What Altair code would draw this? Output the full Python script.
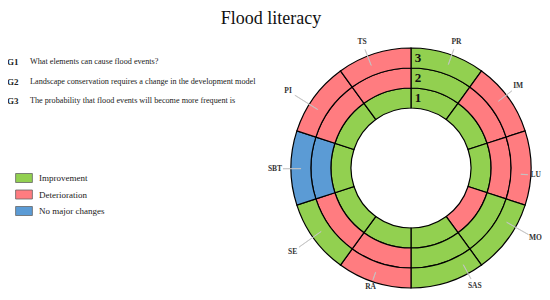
import altair as alt
import pandas as pd

sectors = ["PR", "IM", "LU", "MO", "SAS", "RA", "SE", "SBT", "PI", "TS"]
ring1 = ["Improvement", "Improvement", "Improvement", "Deterioration", "Improvement",
         "Improvement", "Improvement", "Improvement", "Improvement", "Improvement"]
ring2 = ["Improvement", "Deterioration", "Deterioration", "Improvement", "Improvement",
         "Deterioration", "Deterioration", "No major changes", "Deterioration", "Deterioration"]
ring3 = ["Improvement", "Deterioration", "Deterioration", "Improvement", "Improvement",
         "Deterioration", "Improvement", "No major changes", "Deterioration", "Deterioration"]
ring_names = ["1", "2", "3"]
categories = ["Improvement", "Deterioration", "No major changes"]
colors = ["#92D050", "#FF7C80", "#5B9BD5"]
codes = ["G1", "G2", "G3"]
questions = [
    "What elements can cause flood events?",
    "Landscape conservation requires a change in the development model",
    "The probability that flood events will become more frequent is",
]
title_text = "Flood literacy"

# label placement around the ring (angle in sector units, distance in ring units)
label_angle = [0.55, 1.46, 2.59, 3.32, 4.21, 5.52, 6.52, 7.49, 8.39, 9.41]
label_dist = [6.7, 6.75, 6.25, 7.15, 6.7, 6.3, 7.25, 6.8, 7.25, 6.75]

rows = []
for k, ring in enumerate([ring1, ring2, ring3]):
    for i, (s, v) in enumerate(zip(sectors, ring)):
        rows.append({"sector": s, "ring": ring_names[k], "status": v,
                     "start": i, "end": i + 1, "r0": k + 3, "r1": k + 4})
cells = pd.DataFrame(rows)

labels = pd.DataFrame({"sector": sectors, "a": label_angle,
                       "a2": [a + 0.002 for a in label_angle],
                       "lr": label_dist,
                       "l0": 5.5, "l1": [d - 0.4 for d in label_dist]})
nums = pd.DataFrame({"num": ring_names, "pos": 0, "rad": [3.5, 4.5, 5.5]})
qs = pd.DataFrame({"code": codes, "q": questions, "row": list(range(len(codes)))})
tt = pd.DataFrame({"t": [title_text]})

CX, CY = 403, 160
theta_scale = alt.Scale(domain=[0, 10], range=[0, 6.283185307179586])
rad_scale = alt.Scale(type="linear", domain=[0, 6], range=[0, 120], zero=True)
serif = "Liberation Serif"

arcs = alt.Chart(cells).mark_arc(stroke="black", strokeWidth=1.2).encode(
    x=alt.value(CX), y=alt.value(CY),
    theta=alt.Theta("start:Q", scale=theta_scale),
    theta2="end:Q",
    radius=alt.Radius("r0:Q", scale=rad_scale),
    radius2="r1:Q",
    color=alt.Color("status:N", scale=alt.Scale(domain=categories, range=colors),
                    legend=alt.Legend(title=None, orient="none", legendX=9.5, legendY=163.5,
                                      padding=0, rowPadding=3.5, labelOffset=8.5,
                                      symbolType="M-1.4,-0.75H1.4V0.75H-1.4Z",
                                      symbolSize=144, symbolStrokeColor="#666",
                                      symbolStrokeWidth=0.8, symbolOpacity=1,
                                      labelFont=serif, labelFontSize=9,
                                      labelColor="#222")),
)

leaders = alt.Chart(labels).mark_arc(stroke="#c4c4c4", strokeWidth=0.8, fillOpacity=0).encode(
    x=alt.value(CX), y=alt.value(CY),
    theta=alt.Theta("a:Q", scale=theta_scale), theta2="a2:Q",
    radius=alt.Radius("l0:Q", scale=rad_scale), radius2="l1:Q",
)

sector_text = alt.Chart(labels).mark_text(font=serif, fontSize=7.5, fontWeight="bold",
                                          color="#333", baseline="middle", align="center").encode(
    x=alt.value(CX), y=alt.value(CY),
    theta=alt.Theta("a:Q", scale=theta_scale),
    radius=alt.Radius("lr:Q", scale=rad_scale),
    text="sector:N",
)

num_text = alt.Chart(nums).mark_text(font=serif, fontSize=13, fontWeight="bold",
                                     color="#111", baseline="middle", align="center", dx=7).encode(
    x=alt.value(CX), y=alt.value(CY),
    theta=alt.Theta("pos:Q", scale=theta_scale),
    radius=alt.Radius("rad:Q", scale=rad_scale),
    text="num:N",
)

yq = alt.Y("row:Q", scale=alt.Scale(domain=[0, 2], range=[54, 93]), axis=None)
code_text = alt.Chart(qs).mark_text(font=serif, fontSize=9, fontWeight="bold", color="#222",
                                    align="left", baseline="middle").encode(
    x=alt.value(-1), y=yq, text="code:N")
q_text = alt.Chart(qs).mark_text(font=serif, fontSize=8.2, color="#222",
                                 align="left", baseline="middle").encode(
    x=alt.value(22), y=yq, text="q:N")

title = alt.Chart(tt).mark_text(font=serif, fontSize=18, color="#111",
                                align="center", baseline="top").encode(
    x=alt.value(263), y=alt.value(2), text="t:N")

chart = alt.layer(arcs, leaders, sector_text, num_text, code_text, q_text, title).properties(
    width=534, height=284, padding=0, autosize="none"
).configure_view(stroke=None)

chart.save("out.html", embed_options={"renderer": "svg", "actions": False})
